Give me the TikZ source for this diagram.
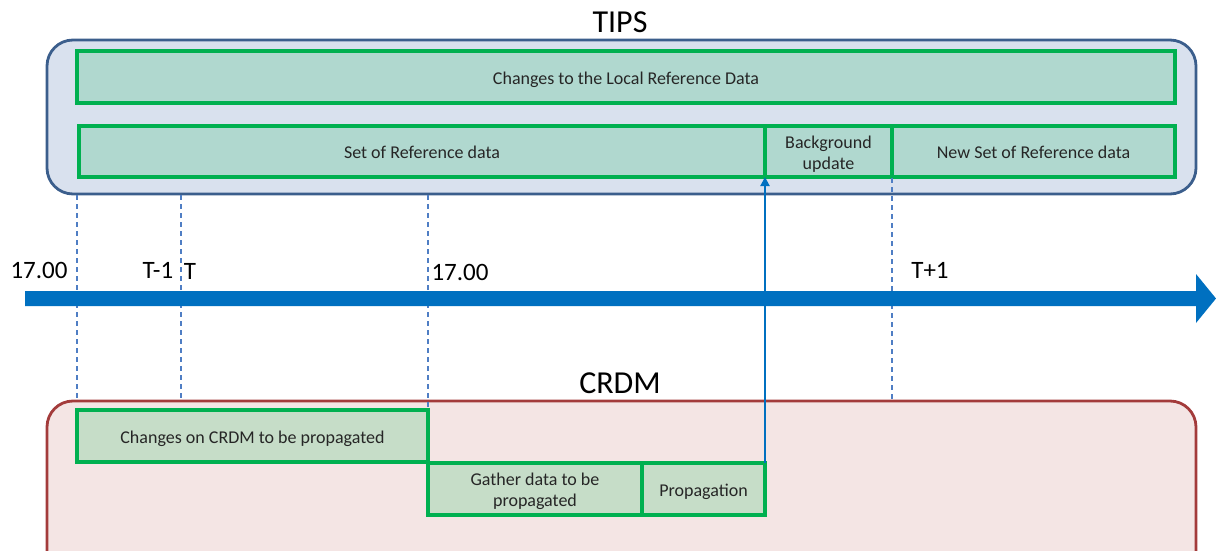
\documentclass[tikz,border=0pt]{standalone}
\usepackage{fontspec}
\setmainfont{Carlito}
\usetikzlibrary{arrows.meta}
\definecolor{tipsfill}{HTML}{D9E1EE}
\definecolor{tipsdraw}{HTML}{3B5E8C}
\definecolor{crdmfill}{HTML}{F4E5E4}
\definecolor{crdmdraw}{HTML}{A33B3B}
\definecolor{gbox}{HTML}{00B050}
\definecolor{tealfill}{HTML}{B0D8CF}
\definecolor{sagefill}{HTML}{C6DDC8}
\definecolor{barblue}{HTML}{0070C0}
\definecolor{dashblue}{HTML}{4F7EC4}
\definecolor{txt}{HTML}{262626}
\newcommand{\lowstrut}{\rule{0pt}{20.5pt}}
\begin{document}
\begin{tikzpicture}[x=1pt,y=-1pt,
  panel/.style={rounded corners=26pt, line width=2.8pt},
  task/.style={draw=gbox, line width=3.2pt, align=center, text=txt, font=\fontsize{18}{21}\selectfont, inner sep=0pt, outer sep=0pt},
  guide/.style={draw=dashblue, line width=1.3pt, dash pattern=on 5pt off 4pt},
  ticklabel/.style={font=\fontsize{25}{28}\selectfont, inner sep=0pt},
  title/.style={font=\fontsize{32}{36}\selectfont, inner sep=0pt}]
\useasboundingbox (0,0) rectangle (1216,551);
% panels
\draw[panel, draw=tipsdraw, fill=tipsfill] (47,40) rectangle (1196,194);
\draw[panel, draw=crdmdraw, fill=crdmfill] (47,401) rectangle (1196,580);
\node[title] (tips) at (620,22) {TIPS};
\node[title] (crdm) at (620,383) {CRDM};
% TIPS boxes
\node[task, fill=tealfill, minimum width=1098pt, minimum height=52pt, anchor=north west] (local) at (77,51) {\lowstrut Changes to the Local Reference Data\strut};
\node[task, fill=tealfill, minimum width=686pt, minimum height=51pt, anchor=north west] (set) at (79,126) {\lowstrut Set of Reference data\strut};
\node[task, fill=tealfill, minimum width=127pt, minimum height=51pt, anchor=north west] (bg) at (765,126) {\lowstrut Background\\update\strut};
\node[task, fill=tealfill, minimum width=283pt, minimum height=51pt, anchor=north west] (newset) at (892,126) {\lowstrut New Set of Reference data\strut};
% guides
\coordinate (g1t) at (77,195); \coordinate (g1b) at (77,401);
\coordinate (g2t) at (181,195); \coordinate (g2b) at (181,401);
\coordinate (g3t) at (428,195); \coordinate (g3b) at (428,409);
\coordinate (g4t) at (892,178); \coordinate (g4b) at (892,401);
\draw[guide] (g1t) -- (g1b);
\draw[guide] (g2t) -- (g2b);
\draw[guide] (g3t) -- (g3b);
\draw[guide] (g4t) -- (g4b);
% timeline
\fill[barblue] (25,291) -- (1196,291) -- (1196,274) -- (1216,298.5) -- (1196,323) -- (1196,306) -- (25,306) -- cycle;
\node[ticklabel] (l1700a) at (39,270) {17.00};
\node[ticklabel] (ltm1) at (158,270) {T-1};
\node[ticklabel] (lt) at (190,271) {T};
\node[ticklabel] (l1700b) at (460,272) {17.00};
\node[ticklabel] (ltp1) at (930,270) {T+1};
% CRDM boxes
\node[task, fill=sagefill, minimum width=351pt, minimum height=52pt, anchor=north west] (chg) at (77,410) {\lowstrut Changes on CRDM to be propagated\strut};
\node[task, fill=sagefill, minimum width=214pt, minimum height=52pt, anchor=north west] (gather) at (428,463) {\lowstrut Gather data to be\\propagated\strut};
\node[task, fill=sagefill, minimum width=123pt, minimum height=52pt, anchor=north west] (prop) at (642,463) {\lowstrut Propagation\strut};
% propagation arrow
\draw[barblue, line width=2pt, -{Triangle[length=9pt,width=9pt]}] (prop.north east) -- (bg.south west);
\end{tikzpicture}
\end{document}
